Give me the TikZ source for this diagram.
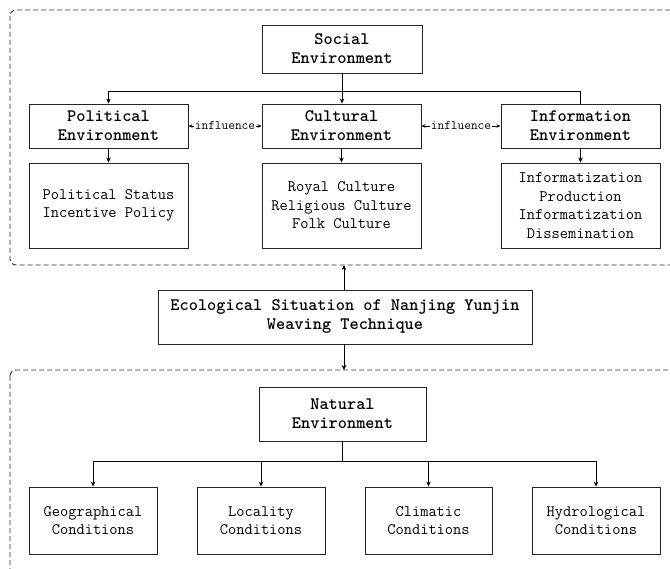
\documentclass[tikz,border=0pt]{standalone}
\usepackage{fontspec}
\usetikzlibrary{arrows.meta}
\begin{document}
\begin{tikzpicture}[x=1pt,y=-1pt,
  box/.style={draw=black!85, line width=0.9pt, fill=white, inner sep=0pt, align=center},
  hd/.style={box, font=\ttfamily\bfseries\fontsize{17.5}{19}\selectfont},
  lf/.style={box, font=\ttfamily\fontsize{16}{18.5}\selectfont},
  conn/.style={draw=black, line width=0.8pt},
  arr/.style={conn, -{Stealth[length=5pt,width=4.5pt]}},
  biarr/.style={conn, {Stealth[length=4pt,width=3.5pt]}-{Stealth[length=4pt,width=3.5pt]}},
  grp/.style={draw=black!80, dash pattern=on 5pt off 3pt, line width=0.9pt, rounded corners=6pt},
  inf/.style={font=\ttfamily\fontsize{13}{13}\selectfont, fill=white, inner sep=0.5pt}
]
\path[use as bounding box, clip] (0,0) rectangle (670,569);
\fill[white] (0,0) rectangle (670,569);

% groups
\draw[grp] (10,10) rectangle (700,265);
\draw[grp] (10,370) rectangle (700,600);

% social part
\node[hd, minimum width=160pt, minimum height=48pt] (social) at (342,49) {Social\\Environment};
\node[hd, minimum width=159pt, minimum height=44pt] (pol) at (108.5,126) {Political\\Environment};
\node[hd, minimum width=159pt, minimum height=44pt] (cul) at (341.5,126) {Cultural\\Environment};
\node[hd, minimum width=159pt, minimum height=44pt] (info) at (580.5,126) {Information\\Environment};

\node[lf, minimum width=159pt, minimum height=85pt] (polL) at (108.5,205.5) {Political Status\\Incentive Policy};
\node[lf, minimum width=159pt, minimum height=85pt] (culL) at (341.5,205.5) {Royal Culture\\Religious Culture\\Folk Culture};
\node[lf, minimum width=159pt, minimum height=85pt] (infoL) at (580.5,205.5) {Informatization\\Production\\Informatization\\Dissemination};

\coordinate (sbus) at (342,91);
\draw[conn] (social.south) -- (sbus);
\draw[arr] (sbus) -| (pol.north);
\draw[arr] (sbus) -- (sbus |- cul.north);
\draw[conn] (sbus) -| (info.north);

\draw[biarr] (pol.east) -- node[inf]{influence} (cul.west);
\draw[biarr] (cul.east) -- node[inf]{influence} (info.west);

\draw[arr] (pol.south) -- (polL.north);
\draw[arr] (cul.south) -- (culL.north);
\draw[arr] (info.south) -- (infoL.north);

% center
\node[hd, minimum width=374pt, minimum height=54pt] (eco) at (345,317) {Ecological Situation of Nanjing Yunjin\\Weaving Technique};
\coordinate (topgrp) at (344,265);
\coordinate (botgrp) at (344,370);
\draw[arr] (eco.north -| topgrp) -- (topgrp);
\draw[arr] (eco.south -| botgrp) -- (botgrp);

% natural part
\node[hd, minimum width=167pt, minimum height=54pt] (nat) at (342.5,414) {Natural\\Environment};
\node[lf, minimum width=128pt, minimum height=67pt] (geo) at (93,520.5) {Geographical\\Conditions};
\node[lf, minimum width=128pt, minimum height=67pt] (loc) at (261,520.5) {Locality\\Conditions};
\node[lf, minimum width=127pt, minimum height=67pt] (cli) at (428.5,520.5) {Climatic\\Conditions};
\node[lf, minimum width=128pt, minimum height=67pt] (hyd) at (596,520.5) {Hydrological\\Conditions};

\coordinate (nbus) at (342.5,461);
\draw[conn] (nat.south) -- (nbus);
\draw[arr] (nbus) -| (geo.north);
\draw[arr] (nbus) -| (loc.north);
\draw[arr] (nbus) -| (cli.north);
\draw[arr] (nbus) -| (hyd.north);
\end{tikzpicture}
\end{document}
